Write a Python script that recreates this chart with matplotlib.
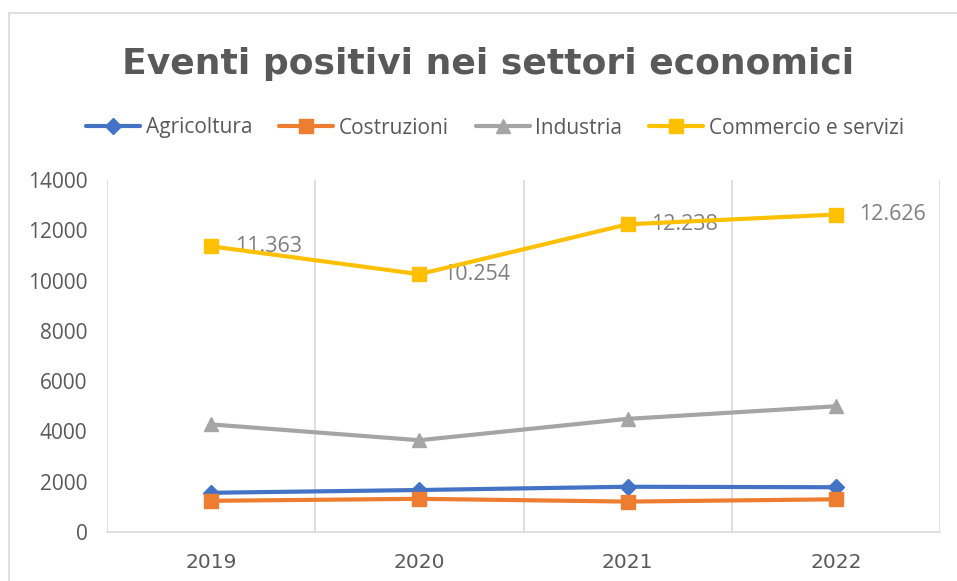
import matplotlib
matplotlib.use("Agg")
import matplotlib.pyplot as plt
from matplotlib.patches import Rectangle

years = ["2019", "2020", "2021", "2022"]
agricoltura = [1560, 1670, 1800, 1780]
costruzioni = [1240, 1320, 1210, 1300]
industria = [4280, 3650, 4500, 5000]
commercio = [11363, 10254, 12238, 12626]
commercio_labels = ["11.363", "10.254", "12.238", "12.626"]
series_names = ["Agricoltura", "Costruzioni", "Industria", "Commercio e servizi"]
yticks = [0, 2000, 4000, 6000, 8000, 10000, 12000, 14000]

plt.rcParams['font.family'] = ['Open Sans', 'DejaVu Sans']

W, H = 957, 581
fig = plt.figure(figsize=(W / 100, H / 100), dpi=100)
fig.patch.set_facecolor("white")

# outer chart border
fig.patches.append(Rectangle((9 / W, -0.2), 2.0, (H - 13) / H + 0.2,
                             transform=fig.transFigure, fill=False,
                             edgecolor="#D9D9D9", linewidth=1.2))

ax = fig.add_axes([107 / W, (H - 532) / H, (940 - 107) / W, (532 - 180) / H])
x = list(range(len(years)))

styles = [
    (agricoltura, "#4472C4", "D", 8),
    (costruzioni, "#ED7D31", "s", 10),
    (industria, "#A5A5A5", "^", 10),
    (commercio, "#FFC000", "s", 10),
]
handles = []
for (vals, col, mk, ms), name in zip(styles, series_names):
    h, = ax.plot(x, vals, color=col, linewidth=3, marker=mk, markersize=ms,
                 markerfacecolor=col, markeredgecolor=col, label=name,
                 solid_capstyle="round", zorder=3)
    handles.append(h)

for xi, v, lab in zip(x, commercio, commercio_labels):
    ax.annotate(lab, (xi, v), xytext=(17, 0), textcoords="offset points",
                ha="left", va="center", fontsize=15.5, color="#7F7F7F", zorder=2)

ax.set_xlim(-0.5, 3.5)
ax.set_ylim(0, 14000)
ax.set_yticks(yticks)
ax.set_yticklabels([str(t) for t in yticks])
ax.set_xticks(x)
ax.set_xticklabels(years, family="DejaVu Sans", fontsize=14.5)

for b in [-0.5, 0.5, 1.5, 2.5, 3.5]:
    ax.axvline(b, color="#D9D9D9", linewidth=1.2, zorder=1)

for s in ["top", "right", "left"]:
    ax.spines[s].set_visible(False)
ax.spines["bottom"].set_color("#D9D9D9")
ax.spines["bottom"].set_linewidth(1.2)
ax.tick_params(axis="both", length=0, colors="#595959")
ax.tick_params(axis="y", labelsize=15, pad=14)
ax.tick_params(axis="x", pad=15)

fig.text(488 / W, (H - 74) / H, "Eventi positivi nei settori economici",
         ha="center", va="baseline", fontsize=26, fontweight="bold",
         color="#595959", family="DejaVu Sans")

leg = fig.legend(handles=handles, loc="center", bbox_to_anchor=(495 / W, (H - 128) / H),
                 ncol=4, frameon=False, fontsize=15, handlelength=2.6,
                 handletextpad=0.25, columnspacing=1.3, labelcolor="#595959")

fig.savefig("out.png", dpi=100, facecolor="white")
